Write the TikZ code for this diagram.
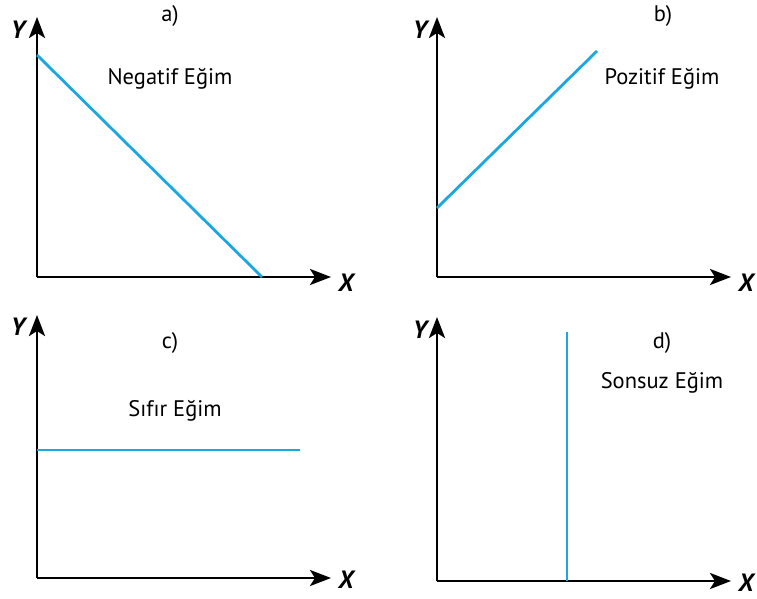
\documentclass[tikz,border=0pt]{standalone}
\usepackage{fontspec}
\setmainfont{PT Sans}
\usetikzlibrary{arrows.meta}
\definecolor{lineblue}{RGB}{27,168,224}
\tikzset{
  axis/.style={line width=2.8pt,-{Stealth[length=21pt,width=16pt,inset=5pt]}},
  curve/.style={line width=2.8pt,lineblue},
  axlabel/.style={font=\fontsize{25}{28}\selectfont\bfseries\itshape},
  lbl/.style={font=\fontsize{22.5}{26}\selectfont}
}
\begin{document}
\begin{tikzpicture}[x=1pt,y=-1pt]
\useasboundingbox (0,0) rectangle (757,599);
% panel a
\coordinate (oa) at (37,277);
\coordinate (ya) at (37,17);
\coordinate (xa) at (331,277);
\draw[axis] (oa) -- (ya);
\draw[axis] (oa) -- (xa);
\node[axlabel] (Ya) at (18,30) {Y};
\node[axlabel] (Xa) at (346,283) {X};
\coordinate (a1) at (37,55);
\coordinate (a2) at (262,277);
\draw[curve] (a1) -- (a2);
\node[lbl] (ta) at (170,16) {a)};
\node[lbl] (na) at (170,79) {Negatif Eğim};
% panel b
\coordinate (ob) at (437,277);
\coordinate (yb) at (437,17);
\coordinate (xb) at (731,277);
\draw[axis] (ob) -- (yb);
\draw[axis] (ob) -- (xb);
\node[axlabel] (Yb) at (420,30) {Y};
\node[axlabel] (Xb) at (746,283) {X};
\coordinate (b1) at (437,208);
\coordinate (b2) at (597,51);
\draw[curve] (b1) -- (b2);
\node[lbl] (tb) at (663,16) {b)};
\node[lbl] (nb) at (662,79) {Pozitif Eğim};
% panel c
\coordinate (oc) at (37,578);
\coordinate (yc) at (37,315);
\coordinate (xc) at (331,578);
\draw[axis] (oc) -- (yc);
\draw[axis] (oc) -- (xc);
\node[axlabel] (Yc) at (18,327) {Y};
\node[axlabel] (Xc) at (346,580) {X};
\coordinate (c1) at (37,450);
\coordinate (c2) at (300,450);
\draw[curve] (c1) -- (c2);
\node[lbl] (tc) at (170,343) {c)};
\node[lbl] (nc) at (175,411) {Sıfır Eğim};
% panel d
\coordinate (od) at (437,581);
\coordinate (yd) at (437,317);
\coordinate (xd) at (731,581);
\draw[axis] (od) -- (yd);
\draw[axis] (od) -- (xd);
\node[axlabel] (Yd) at (420,330) {Y};
\node[axlabel] (Xd) at (746,583) {X};
\coordinate (d1) at (567,332);
\coordinate (d2) at (567,581);
\draw[curve] (d1) -- (d2);
\node[lbl] (td) at (662,343) {d)};
\node[lbl] (nd) at (662,383) {Sonsuz Eğim};
\end{tikzpicture}
\end{document}
